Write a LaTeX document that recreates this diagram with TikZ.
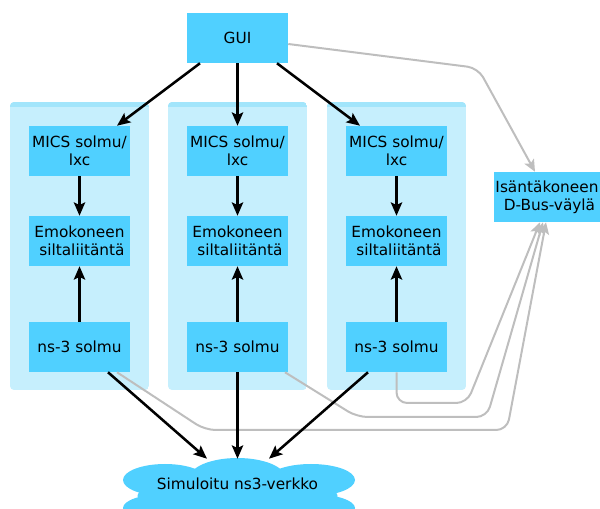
\documentclass[tikz,border=0pt]{standalone}
\usepackage{fontspec}
\setmainfont{DejaVu Sans}
\usetikzlibrary{arrows.meta}
\definecolor{sininen}{HTML}{50D0FF}
\definecolor{pohja}{HTML}{C6EFFD}
\definecolor{pohjayla}{HTML}{A2E5FB}
\definecolor{viiva}{HTML}{BEBEBE}
\tikzset{
  laatikko/.style={fill=sininen, minimum width=75.75pt, minimum height=37.5pt,
    inner sep=0pt, align=center, font=\fontsize{11.5}{13.5}\selectfont},
  musta/.style={line width=1.9pt, -{Stealth[length=10pt,width=8.5pt,inset=2pt]}},
  harmaa/.style={viiva, line width=1.5pt, rounded corners=8pt,
    -{Stealth[length=9pt,width=8pt,inset=2pt]}},
}

\begin{document}
\begin{tikzpicture}[x=0.75pt,y=-0.75pt]
            \useasboundingbox (0,0) rectangle (600,509);

            % paneelit
            \foreach \x in {10,168,327} {
                \begin{scope}
                    \clip[rounded corners=3pt] (\x,102) rectangle ++(139,288);
                    \fill[pohja] (\x,102) rectangle ++(139,288);
                    \fill[pohjayla] (\x,102) rectangle ++(139,5);
                \end{scope}
            }

            % pilvi
            \fill[sininen] (237.5,478) ellipse [x radius=48, y radius=20];
            \fill[sininen] (165,480) ellipse [x radius=42, y radius=16];
            \fill[sininen] (311,480) ellipse [x radius=44, y radius=16];
            \fill[sininen] (165,508) ellipse [x radius=42, y radius=14];
            \fill[sininen] (311,508) ellipse [x radius=44, y radius=14];
            \fill[sininen] (237.5,496) ellipse [x radius=100, y radius=20];

            \node[laatikko] (gui) at (237.5,38) {GUI};
            \node[laatikko, minimum width=79.5pt] (isanta) at (547,197) {Isäntäkoneen\\\ D-Bus-väylä};
            \node[laatikko, fill=none, minimum width=150pt] (verkko) at (237.5,484) {Simuloitu ns3-verkko};

            \foreach \n/\x in {1/79.5,2/237.5,3/396.5} {
                \node[laatikko] (mics\n) at (\x,151) {MICS solmu/\\lxc};
                \node[laatikko] (emo\n) at (\x,241) {Emokoneen\\\ siltaliitäntä};
                \node[laatikko] (ns\n) at (\x,347) {ns-3 solmu};
                \draw[musta] (mics\n) -- (emo\n);
                \draw[musta] (ns\n) -- (emo\n);
            }

            % harmaat yhteydet
            \draw[harmaa] (gui.east |- 0,44) -- (478,68) -- (isanta.north -| 535,0);
            \draw[harmaa] (ns3.south) -- (396.5,403) -- (467,403) -- (isanta.south -| 540,0);
            \draw[harmaa] (ns2.south -| 285,0) -- (357,417) -- (487,417) -- (isanta.south -| 543,0);
            \draw[harmaa] (ns1.south -| 117,0) -- (205,430) -- (507,430) -- (isanta.south -| 546,0);

            \draw[musta] (gui.south -| 200,0) -- (mics1.north -| 117,0);
            \draw[musta] (gui) -- (mics2);
            \draw[musta] (gui.south -| 277,0) -- (mics3.north -| 360,0);
            \draw[musta] (ns1.south -| 108,0) -- (verkko.north -| 207,0);
            \draw[musta] (ns2) -- (verkko);
            \draw[musta] (ns3.south -| 368,0) -- (verkko.north -| 269,0);
        \end{tikzpicture}
\end{document}
